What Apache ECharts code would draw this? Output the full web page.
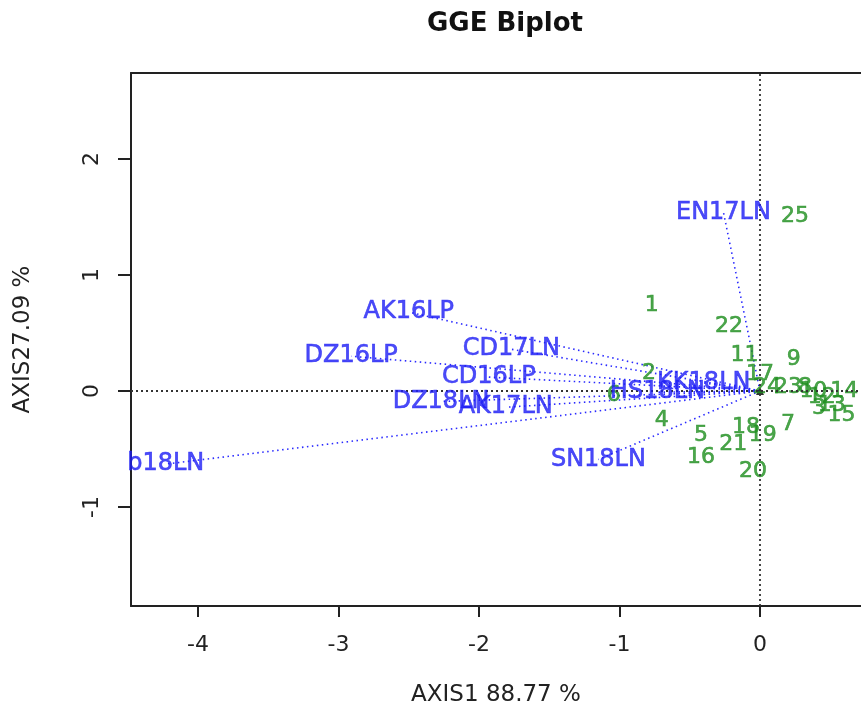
<!DOCTYPE html>
<html>
<head>
<meta charset="utf-8">
<title>GGE Biplot</title>
<script src="https://cdn.jsdelivr.net/npm/echarts@6/dist/echarts.min.js"></script>
<style>
  html, body { margin: 0; padding: 0; background: #fff; }
  #chart { width: 861px; height: 704px; }
</style>
</head>
<body>
<div id="chart"></div>
<script>
// environments (blue vectors)
var envNames = ['EN17LN', 'AK16LP', 'DZ16LP', 'CD17LN', 'CD16LP', 'DZ18LN', 'AK17LN', 'b18LN', 'SN18LN', 'HS18LN', 'KK18LN']
var envX = [-0.26, -2.50, -2.91, -1.77, -1.93, -2.27, -1.81, -4.23, -1.15, -0.73, -0.40]
var envY = [1.54, 0.68, 0.30, 0.36, 0.12, -0.09, -0.14, -0.63, -0.59, -0.01, 0.07]

// genotypes (green numbers)
var genoNames = ['1', '2', '3', '4', '5', '6', '7', '8', '9', '10', '11', '12', '13',
  '14', '15', '16', '17', '18', '19', '20', '21', '22', '23', '24', '25']
var genoX = [-0.77, -0.79, 0.42, -0.70, -0.42, -1.04, 0.20, 0.32, 0.24, 0.38, -0.11, 0.44, 0.51,
  0.60, 0.58, -0.42, 0.00, -0.10, 0.02, -0.05, -0.19, -0.22, 0.20, 0.05, 0.25]
var genoY = [0.74, 0.15, -0.15, -0.25, -0.38, -0.04, -0.29, 0.03, 0.27, 0.00, 0.31, -0.05, -0.12,
  0.00, -0.21, -0.57, 0.14, -0.31, -0.38, -0.69, -0.46, 0.56, 0.03, 0.03, 1.51]

var xTicks = [-4, -3, -2, -1, 0]
var yTicks = [-1, 0, 1, 2]

var font = 'DejaVu Sans'
var xMin = -4.477, xMax = 0.719
var yMin = -1.853, yMax = 2.741

var chart = echarts.init(document.getElementById('chart'))

var series = []

// dotted reference lines through the origin
series.push({
  type: 'scatter',
  data: [],
  silent: true,
  markLine: {
    silent: true,
    symbol: 'none',
    label: { show: false },
    lineStyle: { color: '#333', width: 1.8, type: [2, 3] },
    data: [{ xAxis: 0 }, { yAxis: 0 }]
  }
})

// environment vectors
envNames.forEach(function (name, i) {
  series.push({
    type: 'line',
    silent: true,
    symbol: 'none',
    lineStyle: { color: '#2a2aff', width: 1.6, type: [1.5, 3.5] },
    data: [[0, 0], [envX[i], envY[i]]],
    z: 2
  })
})

// origin marker
series.push({
  type: 'scatter',
  silent: true,
  symbol: 'triangle',
  symbolSize: 8,
  itemStyle: { color: '#000' },
  data: [[0, 0]],
  z: 3
})

series.push({
  type: 'scatter',
  silent: true,
  symbolSize: 1,
  itemStyle: { color: 'rgba(0,0,0,0)' },
  label: {
    show: true,
    position: 'inside',
    formatter: function (p) { return p.name },
    color: '#1f8f1f',
    textBorderColor: '#1f8f1f',
    textBorderWidth: 0.6,
    fontFamily: font,
    fontSize: 22
  },
  data: genoNames.map(function (n, i) { return { name: n, value: [genoX[i], genoY[i]] } }),
  z: 4
})

series.push({
  type: 'scatter',
  silent: true,
  symbolSize: 1,
  itemStyle: { color: 'rgba(0,0,0,0)' },
  label: {
    show: true,
    position: 'inside',
    formatter: function (p) { return p.name },
    color: '#1e1ef5',
    textBorderColor: '#1e1ef5',
    textBorderWidth: 0.6,
    fontFamily: font,
    fontSize: 24
  },
  data: envNames.map(function (n, i) { return { name: n, value: [envX[i], envY[i]] } }),
  z: 5
})

chart.setOption({
  animation: false,
  backgroundColor: '#fff',
  title: {
    text: 'GGE Biplot',
    left: 500,
    top: 6,
    textAlign: 'center',
    textStyle: { fontFamily: font, fontSize: 26, fontWeight: 'bold', color: '#111' }
  },
  grid: {
    left: 131,
    right: 0,
    top: 73,
    bottom: 98,
    outerBoundsMode: 'none',
    containLabel: false
  },
  xAxis: [{
    type: 'value',
    min: xMin,
    max: xMax,
    name: 'AXIS1 88.77 %',
    nameLocation: 'middle',
    nameGap: 78,
    nameTextStyle: { fontFamily: font, fontSize: 23, color: '#222' },
    splitLine: { show: false },
    axisLine: { show: true, onZero: false, lineStyle: { color: '#222', width: 2 } },
    axisTick: { show: true, length: 11, customValues: xTicks, lineStyle: { color: '#222', width: 2 } },
    axisLabel: { customValues: xTicks, margin: 28, fontFamily: font, fontSize: 22, color: '#222' }
  }, {
    type: 'value',
    position: 'top',
    min: xMin,
    max: xMax,
    splitLine: { show: false },
    axisLine: { show: true, onZero: false, lineStyle: { color: '#222', width: 2 } },
    axisTick: { show: false },
    axisLabel: { show: false }
  }],
  yAxis: {
    type: 'value',
    min: yMin,
    max: yMax,
    name: 'AXIS27.09 %',
    nameLocation: 'middle',
    nameGap: 96,
    nameTextStyle: { fontFamily: font, fontSize: 23, color: '#222' },
    splitLine: { show: false },
    axisLine: { show: true, onZero: false, lineStyle: { color: '#222', width: 2 } },
    axisTick: { show: true, length: 13, customValues: yTicks, lineStyle: { color: '#222', width: 2 } },
    axisLabel: { customValues: yTicks, rotate: 90, margin: 28, fontFamily: font, fontSize: 22, color: '#222' }
  },
  series: series
})

window.onresize = function () {
  chart.resize()
}
</script>
</body>
</html>
